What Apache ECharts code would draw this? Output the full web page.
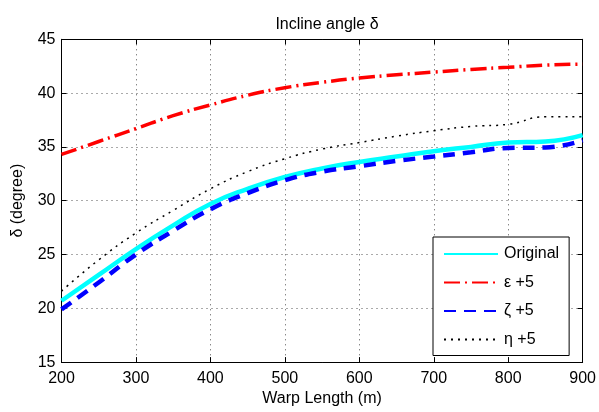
<!DOCTYPE html>
<html><head><meta charset="utf-8">
<script src="https://cdn.jsdelivr.net/npm/echarts@6/dist/echarts.min.js"></script>
<style>html,body{margin:0;padding:0;background:#fff}#c{width:599px;height:412px}</style>
</head><body><div id="c"></div>
<script>
var warpLength = [200,250,300,350,400,450,500,550,600,650,700,750,800,850,900];
var original = [20.7,23.1,25.5,27.7,29.7,31.1,32.2,33.0,33.6,34.1,34.6,35.0,35.4,35.5,36.1];
var epsilon  = [34.3,35.5,36.7,37.9,38.9,39.8,40.5,41.0,41.4,41.7,41.95,42.2,42.4,42.6,42.7];
var zeta     = [19.9,22.4,25.0,27.2,29.2,30.7,31.9,32.7,33.2,33.7,34.1,34.5,34.9,34.95,35.6];
var eta      = [21.6,24.5,27.0,29.1,31.1,32.7,33.9,34.8,35.4,36.0,36.5,36.9,37.1,37.8,37.8];
var seriesNames = ['Original','\u03b5 +5','\u03b6 +5','\u03b7 +5'];

function pairs(v){ return warpLength.map(function(x,i){ return [x, v[i]]; }); }
var FONT = 'Liberation Sans, Arial, sans-serif';
var chart = echarts.init(document.getElementById('c'), null, {renderer:'canvas'});
var splitStyle = {show:true, lineStyle:{color:'#555', width:1, type:[1,4]}};
var tickIn = {show:true, inside:true, length:5, lineStyle:{color:'#000'}};
chart.setOption({
  animation:false,
  backgroundColor:'#fff',
  title:{text:'Incline angle \u03b4', left:322, top:12, textAlign:'center',
    textStyle:{fontFamily:FONT, fontSize:16, fontWeight:'normal', color:'#000'}},
  grid:{left:61.5, right:16, top:39.3, bottom:49, containLabel:false},
  legend:{
    orient:'vertical', left:433, top:237, width:118,
    padding:[9,10,8,10], itemGap:12.5, itemWidth:54, itemHeight:14,
    borderColor:'#000', borderWidth:1, backgroundColor:'#fff',
    itemStyle:{opacity:0},
    textStyle:{fontFamily:FONT, fontSize:16, color:'#000', padding:[0,0,0,1]},
    data:seriesNames
  },
  xAxis:[{
    type:'value', min:200, max:900, interval:100,
    name:'Warp Length (m)', nameLocation:'middle', nameGap:25,
    nameTextStyle:{fontFamily:FONT, fontSize:16, color:'#000'},
    axisLine:{show:true, lineStyle:{color:'#000', width:1}},
    axisTick:tickIn,
    axisLabel:{fontFamily:FONT, fontSize:16, color:'#000', margin:8},
    splitLine:splitStyle
  },{
    type:'value', min:200, max:900, interval:100, position:'top',
    axisLine:{show:true, lineStyle:{color:'#000', width:1}},
    axisTick:tickIn, axisLabel:{show:false}, splitLine:{show:false}
  }],
  yAxis:[{
    type:'value', min:15, max:45, interval:5,
    name:'\u03b4 (degree)', nameLocation:'middle', nameGap:36,
    nameTextStyle:{fontFamily:FONT, fontSize:16, color:'#000'},
    axisLine:{show:true, lineStyle:{color:'#000', width:1}},
    axisTick:tickIn,
    axisLabel:{fontFamily:FONT, fontSize:16, color:'#000', margin:6},
    splitLine:splitStyle
  },{
    type:'value', min:15, max:45, interval:5, position:'right',
    axisLine:{show:true, lineStyle:{color:'#000', width:1}},
    axisTick:tickIn, axisLabel:{show:false}, splitLine:{show:false}
  }],
  series:[
    {name:seriesNames[0], type:'line', data:pairs(original), smooth:0.5, symbol:'none',
      lineStyle:{color:'#00ffff', width:4.5}, itemStyle:{color:'#00ffff'}},
    {name:seriesNames[1], type:'line', data:pairs(epsilon), smooth:0.5, symbol:'none',
      lineStyle:{color:'#ff0000', width:3.5, type:[16,5,2,5]}, itemStyle:{color:'#ff0000'}},
    {name:seriesNames[2], type:'line', data:pairs(zeta), smooth:0.5, symbol:'none',
      lineStyle:{color:'#0000ff', width:4.5, type:[12,8]}, itemStyle:{color:'#0000ff'}},
    {name:seriesNames[3], type:'line', data:pairs(eta), smooth:0.5, symbol:'none',
      lineStyle:{color:'#000000', width:1.5, type:[2,5]}, itemStyle:{color:'#000000'}}
  ]
});
</script></body></html>
